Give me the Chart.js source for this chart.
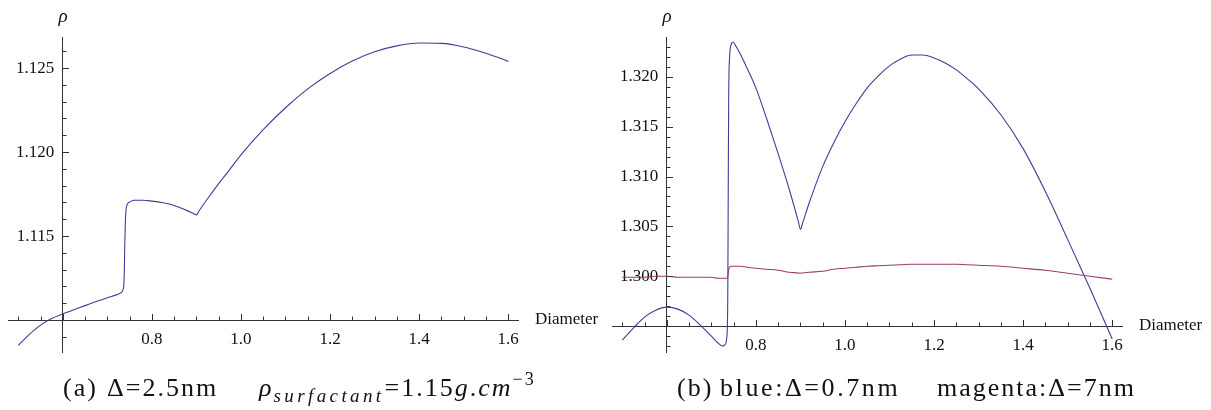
<!DOCTYPE html>
<html><head><meta charset="utf-8">
<script src="https://cdn.jsdelivr.net/npm/chart.js@4.4.1/dist/chart.umd.min.js"></script>
<style>
html,body{margin:0;padding:0;background:#fff;}
#wrap{position:relative;width:1211px;height:410px;overflow:hidden;background:#fff;}
canvas{position:absolute;top:0;}
.cap{position:absolute;top:375px;font-family:"Liberation Serif","DejaVu Serif","Noto Serif","Times New Roman",Times,serif;font-size:26px;line-height:26px;white-space:nowrap;color:#111;letter-spacing:2px;}
.cap sub{font-size:19px;vertical-align:-6px;line-height:0;letter-spacing:3.4px}
.cap sup{font-size:18px;vertical-align:11px;line-height:0;letter-spacing:2px}
</style></head><body>
<div id="wrap">
<canvas id="cA" width="600" height="410" style="left:0"></canvas>
<canvas id="cB" width="611" height="410" style="left:600px"></canvas>
<div class="cap" style="left:63px">(a)</div>
<div class="cap" style="left:107px">Δ=2.5nm</div>
<div class="cap" style="left:259px"><i>ρ</i><sub><i>surfactant</i></sub>=1.15<i>g</i>.<i>cm</i><sup>−3</sup></div>
<div class="cap" style="left:677px">(b)</div>
<div class="cap" style="left:720px;letter-spacing:2.6px">blue:Δ=0.7nm</div>
<div class="cap" style="left:937px">magenta:Δ=7nm</div>
</div>
<script>
// ---- data ----
const diametersA = [0.5,0.525,0.55,0.575,0.6, 0.625,0.65,0.675,0.7, 0.72,0.73,0.735, 0.737,0.738,0.739, 0.741,0.745,0.75,0.76,0.78, 0.8,0.825,0.85,0.875, 0.895,0.9,0.905, 0.925,0.95,0.975, 1.0,1.05,1.1,1.15,1.2, 1.25,1.3,1.35,1.4,1.45, 1.5,1.55,1.6];
const rhoA = [1.1085,1.10915,1.10970,1.11010,1.11036, 1.11062,1.11086,1.11110,1.11133, 1.11150,1.11162,1.1118, 1.1121,1.1128,1.1142, 1.1162,1.1169,1.11702,1.11713,1.11713, 1.11708,1.11698,1.11682,1.11656, 1.11632,1.11626,1.11646, 1.11722,1.11812,1.11897, 1.11983,1.12133,1.12264,1.12376,1.12468, 1.12542,1.12597,1.12632,1.12649,1.12647, 1.12626,1.12588,1.12540];

const diametersB = [0.5,0.525,0.55,0.575,0.6, 0.625,0.65,0.675,0.7, 0.715,0.725,0.73,0.735, 0.737,0.738,0.739,0.741, 0.745,0.749,0.755,0.765, 0.78,0.8,0.825,0.85, 0.875,0.895,0.9,0.905, 0.92,0.95,0.975,1.0, 1.025,1.05,1.075,1.1, 1.125,1.15,1.175,1.2, 1.225,1.25,1.275,1.3, 1.35,1.4,1.45,1.5, 1.55,1.6];
const rhoBlue = [1.2936,1.2948,1.2959,1.2966,1.2969, 1.2967,1.2961,1.2951,1.2940, 1.2933,1.2930,1.2931,1.2940, 1.2985,1.3090,1.3180,1.3220, 1.3233,1.3235,1.3231,1.3223, 1.3209,1.3189,1.3157,1.3123, 1.3087,1.30555,1.3047,1.30535, 1.3074,1.3110,1.3134,1.3155, 1.3173,1.3189,1.3201,1.3211, 1.3218,1.3222,1.3222,1.3219, 1.3214,1.3207,1.3198,1.3188, 1.3162,1.3128,1.3085,1.3037, 1.2988,1.2937];
const rhoMagenta = [1.2999,1.2999,1.2999,1.3000,1.3000, 1.2999,1.2999,1.2999,1.2999, 1.2998,1.2998,1.2998,1.2998, 1.2999,1.3003,1.3007,1.3009, 1.3010,1.3010,1.3010,1.3010, 1.3009,1.3008,1.3007,1.3006, 1.3004,1.30033,1.3003,1.30033, 1.3004,1.3005,1.3007,1.3008, 1.3009,1.3010,1.30105,1.3011, 1.30115,1.3012,1.3012,1.3012, 1.3012,1.3012,1.30115,1.3011, 1.3010,1.3008,1.3006,1.3003, 1.3000,1.2997];

// ---- ticks ----
const xMinorTicks = [0.5,0.55,0.6,0.65,0.7,0.75,0.8,0.85,0.9,0.95,1.0,1.05,1.1,1.15,1.2,1.25,1.3,1.35,1.4,1.45,1.5,1.55,1.6];
const xMajorTicks = [0.6,0.8,1.0,1.2,1.4,1.6];
const xTickLabels = ['', '0.8','1.0','1.2','1.4','1.6'];
const yMinorTicksA = [1.109,1.110,1.111,1.112,1.113,1.114,1.115,1.116,1.117,1.118,1.119,1.120,1.121,1.122,1.123,1.124,1.125,1.126];
const yMajorTicksA = [1.110,1.115,1.120,1.125];
const yTickLabelsA = ['', '1.115','1.120','1.125'];
const yMinorTicksB = [1.293,1.294,1.295,1.296,1.297,1.298,1.299,1.300,1.301,1.302,1.303,1.304,1.305,1.306,1.307,1.308,1.309,1.310,1.311,1.312,1.313,1.314,1.315,1.316,1.317,1.318,1.319,1.320,1.321,1.322,1.323];
const yMajorTicksB = [1.295,1.300,1.305,1.310,1.315,1.320];
const yTickLabelsB = ['', '1.300','1.305','1.310','1.315','1.320'];

const xCross = 0.6;          // y axis drawn at this diameter
const yCrossA = 1.110;       // x axis drawn at this density (a)
const yCrossB = 1.295;       // x axis drawn at this density (b)

const BLUE = 'rgb(62,61,153)';
const MAGENTA = 'rgb(153,61,107)';
const AXIS = '#333';
const SERIF = '"Liberation Serif", "DejaVu Serif", "Noto Serif", "Times New Roman", Times, serif';

function idxOf(arr, v){ return arr.findIndex(a => Math.abs(a - v) < 1e-7); }
function pts(xs, ys){ return xs.map((x,i)=>({x, y: ys[i]})); }

const axisDecor = {
  id: 'axisDecor',
  afterDraw(chart, args, o) {
    const {ctx, scales: {x, y}} = chart;
    const x0 = Math.round(x.getPixelForValue(o.xCross));
    const y0 = Math.round(y.getPixelForValue(o.yCross));
    ctx.save();
    ctx.strokeStyle = AXIS; ctx.lineWidth = 1;
    ctx.beginPath();
    x.ticks.forEach(t => {
      const px = Math.round(x.getPixelForValue(t.value)) + 0.5;
      const len = idxOf(o.xMajor, t.value) >= 0 ? 6 : 3.5;
      ctx.moveTo(px, y0); ctx.lineTo(px, y0 - len);
    });
    y.ticks.forEach(t => {
      const py = Math.round(y.getPixelForValue(t.value)) + 0.5;
      const len = idxOf(o.yMajor, t.value) >= 0 ? 6 : 3.5;
      ctx.moveTo(x0, py); ctx.lineTo(x0 + len, py);
    });
    ctx.stroke();
    ctx.fillStyle = '#111';
    ctx.font = 'italic 19px ' + SERIF;
    ctx.textAlign = 'center'; ctx.textBaseline = 'middle';
    ctx.fillText('ρ', x0, y.top - 20);
    ctx.font = '17px ' + SERIF;
    ctx.textAlign = 'left';
    ctx.fillText('Diameter', x.right + 17, y0);
    ctx.restore();
  }
};

function makeChart(id, datasets, yMin, yMax, yCross, yMinor, yMajor, yLabels, padding) {
  return new Chart(document.getElementById(id), {
    type: 'scatter',
    data: { datasets },
    options: {
      responsive: false, animation: false, devicePixelRatio: 1,
      layout: { padding },
      plugins: { legend: {display:false}, tooltip: {enabled:false},
                 axisDecor: {xCross, yCross, xMajor: xMajorTicks, yMajor} },
      elements: { point: {radius:0}, line: {borderWidth:1.1, cubicInterpolationMode:'monotone'} },
      scales: {
        x: {
          type: 'linear', min: 0.477, max: 1.622,
          position: { y: yCross },
          border: { display:true, color: AXIS, width: 1 },
          grid: { display:true, drawOnChartArea:false, drawTicks:false },
          afterBuildTicks: s => { s.ticks = xMinorTicks.map(v => ({value: v})); },
          ticks: {
            autoSkip:false, maxRotation:0,
            padding: 9, color:'#111', font:{family:SERIF, size:17},
            callback: v => { const i = idxOf(xMajorTicks, v); return i >= 0 ? xTickLabels[i] : ''; }
          }
        },
        y: {
          type: 'linear', min: yMin, max: yMax,
          position: { x: xCross },
          border: { display:true, color: AXIS, width: 1 },
          grid: { display:true, drawOnChartArea:false, drawTicks:false },
          afterBuildTicks: s => { s.ticks = yMinor.map(v => ({value: v})); },
          ticks: {
            autoSkip:false,
            padding: 8, color:'#111', font:{family:SERIF, size:17},
            callback: v => { const i = idxOf(yMajor, v); return (i >= 0 && yLabels[i]) ? yLabels[i] + '\u2002' : ''; }
          }
        }
      }
    },
    plugins: [axisDecor]
  });
}

makeChart('cA', [
  { data: pts(diametersA, rhoA), showLine:true, borderColor: BLUE, backgroundColor: BLUE, fill:false }
], 1.1081, 1.12685, yCrossA, yMinorTicksA, yMajorTicksA, yTickLabelsA, {left:8, right:82, top:37, bottom:58});

makeChart('cB', [
  { data: pts(diametersB, rhoMagenta), showLine:true, borderColor: MAGENTA, backgroundColor: MAGENTA, fill:false },
  { data: pts(diametersB, rhoBlue), showLine:true, borderColor: BLUE, backgroundColor: BLUE, fill:false }
], 1.2924, 1.3240, yCrossB, yMinorTicksB, yMajorTicksB, yTickLabelsB, {left:12, right:89, top:37, bottom:58});
</script>
</body></html>
